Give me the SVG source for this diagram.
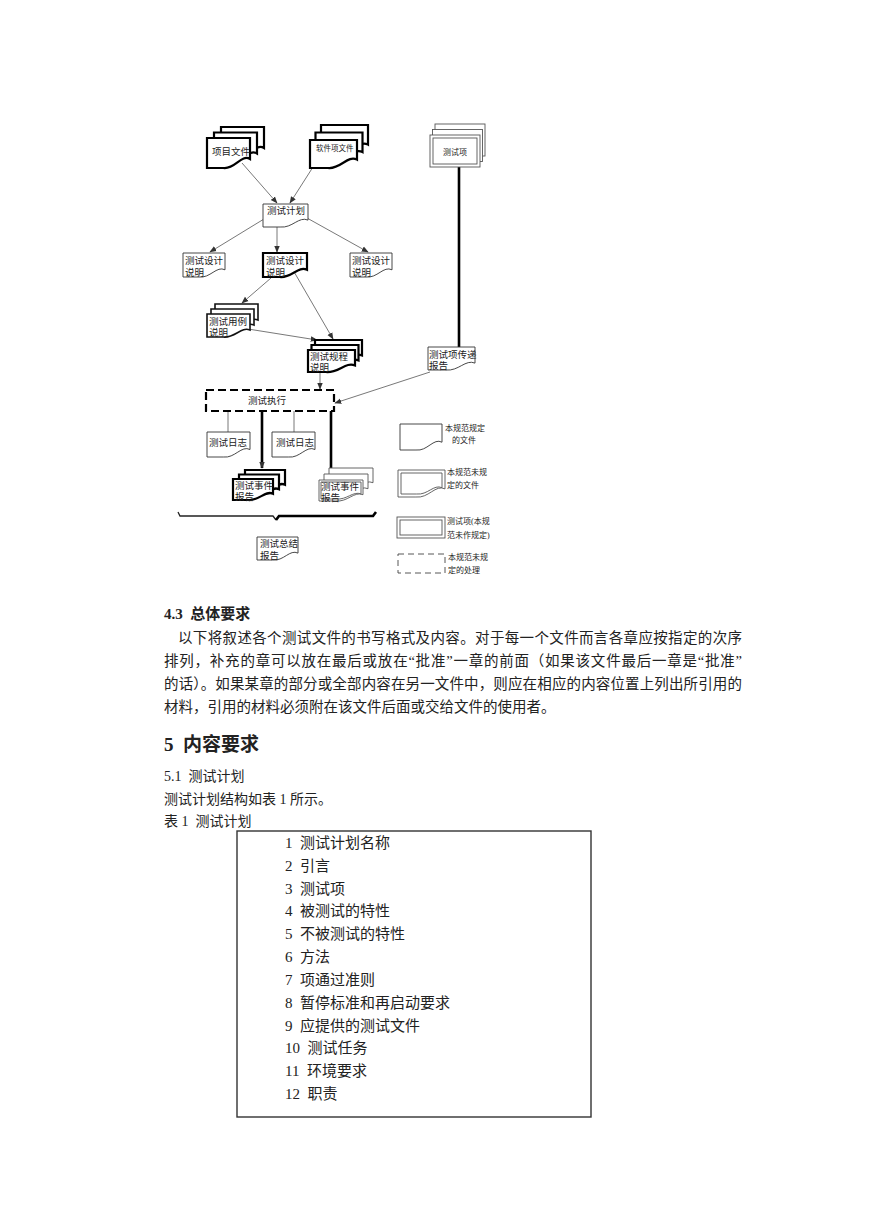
<svg xmlns="http://www.w3.org/2000/svg" width="869" height="1228" viewBox="0 0 869 1228">
<style>
  .bg{fill:#fff}
  .t{font-family:'Liberation Serif','Noto Sans CJK SC',serif;fill:#222;white-space:pre}
  .d{font-size:9.5px}
  .s{font-size:8px}
  .p{font-size:14.5px}
  .r{font-size:15px}
  .thin{fill:#fff;stroke:#333;stroke-width:0.9}
  .med{fill:#fff;stroke:#111;stroke-width:1.6}
  .thick{fill:#fff;stroke:#000;stroke-width:2.2}
  .gray{fill:#fff;stroke:#555;stroke-width:0.9}
  .ln{stroke:#555;stroke-width:0.8;fill:none}
  .bold{stroke:#000;stroke-width:2.6;fill:none}
</style>
<defs>
  <path id="doc" d="M0,0 H100 V70 C80,52 65,106 38,100 L0,100 Z" vector-effect="non-scaling-stroke"/>
  <marker id="ah" viewBox="0 0 10 10" refX="9" refY="5" markerWidth="7" markerHeight="7" orient="auto" markerUnits="userSpaceOnUse">
    <path d="M0,1 L10,5 L0,9 Z" fill="#333"/>
  </marker>
</defs>
<rect class="bg" x="0" y="0" width="869" height="1228"/>

<g id="connectors">
  <line class="ln" x1="242" y1="163" x2="277" y2="203" marker-end="url(#ah)"/>
  <line class="ln" x1="313" y1="167" x2="290" y2="203" marker-end="url(#ah)"/>
  <line class="ln" x1="264" y1="219" x2="210" y2="252" marker-end="url(#ah)"/>
  <line class="ln" x1="277" y1="227" x2="277" y2="252" marker-end="url(#ah)"/>
  <line class="ln" x1="307" y1="218" x2="368" y2="252" marker-end="url(#ah)"/>
  <line class="ln" x1="271" y1="278" x2="242" y2="303" marker-end="url(#ah)"/>
  <line class="ln" x1="293" y1="270" x2="333" y2="339" marker-end="url(#ah)"/>
  <line class="ln" x1="248" y1="329" x2="317" y2="340" marker-end="url(#ah)"/>
  <line class="ln" x1="320" y1="373" x2="320" y2="389" marker-end="url(#ah)"/>
  <line class="bold" x1="459" y1="167" x2="459" y2="347"/>
  <line class="ln" x1="430" y1="372" x2="335" y2="403" marker-end="url(#ah)"/>
  <line class="ln" x1="228" y1="411" x2="228" y2="432"/>
  <line class="bold" x1="262" y1="411" x2="262" y2="468" marker-end="url(#ah)"/>
  <line class="ln" x1="294" y1="411" x2="294" y2="432"/>
  <line class="bold" x1="331" y1="411" x2="331" y2="469"/>
  <path d="M178,512 L180,516 H273 L276,520" stroke="#222" stroke-width="1.3" fill="none"/>
  <path d="M276,520 L279,516 H373 L376,512" stroke="#000" stroke-width="2.6" fill="none"/>
</g>

<g id="n-xiangmu">
  <use href="#doc" class="thick" transform="translate(221,127) scale(0.43,0.3)"/>
  <use href="#doc" class="thick" transform="translate(214,132.5) scale(0.43,0.3)"/>
  <use href="#doc" class="thick" transform="translate(207,138) scale(0.43,0.3)"/>
  <text class="t" x="212" y="155" font-size="9.5">项目文件</text>
</g>
<g id="n-ruanjian">
  <use href="#doc" class="thick" transform="translate(321,125) scale(0.47,0.28)"/>
  <use href="#doc" class="thick" transform="translate(315.5,132.5) scale(0.47,0.28)"/>
  <use href="#doc" class="thick" transform="translate(310,140) scale(0.47,0.28)"/>
  <text class="t" x="316" y="151" font-size="7.5">软件项文件</text>
</g>
<g id="n-ceshixiang">
  <rect class="gray" x="435" y="124" width="50" height="32"/>
  <rect class="gray" x="432.5" y="129.5" width="50" height="32"/>
  <rect class="gray" x="430" y="135" width="50" height="32"/>
  <rect class="gray" x="433" y="138" width="44" height="26"/>
  <text class="t s" x="455" y="155" text-anchor="middle">测试项</text>
</g>
<g id="n-jihua">
  <use href="#doc" class="thin" transform="translate(263,204) scale(0.45,0.23)"/>
  <text class="t d" x="267" y="214">测试计划</text>
</g>
<g id="n-sheji-l">
  <use href="#doc" class="thin" transform="translate(183,253) scale(0.42,0.24)"/>
  <text class="t d" x="185" y="264">测试设计</text>
  <text class="t d" x="185" y="276">说明</text>
</g>
<g id="n-sheji-m">
  <use href="#doc" class="thick" transform="translate(263,253) scale(0.44,0.24)"/>
  <text class="t d" x="266" y="264">测试设计</text>
  <text class="t d" x="266" y="276">说明</text>
</g>
<g id="n-sheji-r">
  <use href="#doc" class="thin" transform="translate(350,253) scale(0.42,0.24)"/>
  <text class="t d" x="352" y="264">测试设计</text>
  <text class="t d" x="352" y="276">说明</text>
</g>
<g id="n-yongli">
  <use href="#doc" class="med" transform="translate(215,304) scale(0.43,0.23)"/>
  <use href="#doc" class="med" transform="translate(211,309) scale(0.43,0.23)"/>
  <use href="#doc" class="med" transform="translate(207,314) scale(0.43,0.23)"/>
  <text class="t d" x="209" y="325">测试用例</text>
  <text class="t d" x="209" y="336">说明</text>
</g>
<g id="n-guicheng">
  <use href="#doc" class="thick" transform="translate(315,340) scale(0.47,0.22)"/>
  <use href="#doc" class="thick" transform="translate(311.5,345) scale(0.47,0.22)"/>
  <use href="#doc" class="thick" transform="translate(308,350) scale(0.47,0.22)"/>
  <text class="t d" x="310" y="360">测试规程</text>
  <text class="t d" x="310" y="371">说明</text>
</g>
<g id="n-chuandi">
  <use href="#doc" class="thin" transform="translate(428,347) scale(0.47,0.23)"/>
  <text class="t d" x="429" y="358">测试项传递</text>
  <text class="t d" x="429" y="369">报告</text>
</g>
<g id="n-zhixing">
  <rect x="206" y="390" width="128" height="21" fill="#fff" stroke="#000" stroke-width="2.2" stroke-dasharray="8,4"/>
  <text class="t d" x="248" y="404">测试执行</text>
</g>
<g id="n-rizhi-l">
  <use href="#doc" class="thin" transform="translate(207,432) scale(0.43,0.25)"/>
  <text class="t d" x="209" y="446">测试日志</text>
</g>
<g id="n-rizhi-r">
  <use href="#doc" class="thin" transform="translate(272,432) scale(0.43,0.25)"/>
  <text class="t d" x="276" y="446">测试日志</text>
</g>
<g id="n-shijian-l">
  <use href="#doc" class="thick" transform="translate(245,470) scale(0.40,0.21)"/>
  <use href="#doc" class="thick" transform="translate(239,474.5) scale(0.40,0.21)"/>
  <use href="#doc" class="thick" transform="translate(233,479) scale(0.40,0.21)"/>
  <text class="t d" x="235" y="489">测试事件</text>
  <text class="t d" x="235" y="500">报告</text>
</g>
<g id="n-shijian-r">
  <use href="#doc" class="gray" transform="translate(329,468) scale(0.44,0.21)"/>
  <use href="#doc" class="gray" transform="translate(324,474) scale(0.44,0.21)"/>
  <use href="#doc" class="gray" transform="translate(319,480) scale(0.44,0.21)"/>
  <use href="#doc" class="gray" transform="translate(321,482) scale(0.40,0.17)"/>
  <text class="t d" x="321" y="490">测试事件</text>
  <text class="t d" x="321" y="501">报告</text>
</g>
<g id="n-zongjie">
  <use href="#doc" class="thin" transform="translate(257,537) scale(0.41,0.23)"/>
  <text class="t d" x="260" y="547">测试总结</text>
  <text class="t d" x="260" y="559">报告</text>
</g>

<g id="legend">
  <use href="#doc" class="thin" transform="translate(400,424) scale(0.42,0.26)"/>
  <text class="t s" x="445" y="431">本规范规定</text>
  <text class="t s" x="452" y="443">的文件</text>
  <use href="#doc" class="gray" transform="translate(398,470) scale(0.47,0.27)"/>
  <use href="#doc" class="gray" transform="translate(401,473) scale(0.41,0.21)"/>
  <text class="t s" x="447" y="475">本规范未规</text>
  <text class="t s" x="447" y="488">定的文件</text>
  <rect class="gray" x="397" y="517" width="48" height="21"/>
  <rect class="gray" x="400" y="520" width="42" height="15"/>
  <text class="t s" x="447" y="524">测试项(本规</text>
  <text class="t s" x="447" y="538">范未作规定)</text>
  <rect x="398" y="554" width="47" height="19" fill="none" stroke="#444" stroke-width="0.9" stroke-dasharray="6,4"/>
  <text class="t s" x="448" y="560">本规范未规</text>
  <text class="t s" x="448" y="573">定的处理</text>
</g>

<g id="body-text">
  <text class="t" x="164" y="619" font-size="15" font-weight="bold">4.3  总体要求</text>
  <text class="t p" x="178" y="643" textLength="564" lengthAdjust="spacing">以下将叙述各个测试文件的书写格式及内容。对于每一个文件而言各章应按指定的次序</text>
  <text class="t p" x="164" y="666" textLength="578" lengthAdjust="spacing">排列，补充的章可以放在最后或放在“批准”一章的前面（如果该文件最后一章是“批准”</text>
  <text class="t p" x="164" y="689" textLength="578" lengthAdjust="spacing">的话）。如果某章的部分或全部内容在另一文件中，则应在相应的内容位置上列出所引用的</text>
  <text class="t p" x="164" y="712">材料，引用的材料必须附在该文件后面或交给文件的使用者。</text>
  <text class="t" x="164" y="751" font-size="19" font-weight="bold">5  内容要求</text>
  <text class="t" x="164" y="781" font-size="14">5.1  测试计划</text>
  <text class="t" x="164" y="804" font-size="14">测试计划结构如表 1 所示。</text>
  <text class="t" x="164" y="826" font-size="14">表 1  测试计划</text>
</g>

<g id="table">
  <rect x="237" y="831" width="354" height="286" fill="none" stroke="#333" stroke-width="1.4"/>
  <text class="t r" x="285" y="848">1  测试计划名称</text>
  <text class="t r" x="285" y="871">2  引言</text>
  <text class="t r" x="285" y="894">3  测试项</text>
  <text class="t r" x="285" y="916">4  被测试的特性</text>
  <text class="t r" x="285" y="939">5  不被测试的特性</text>
  <text class="t r" x="285" y="962">6  方法</text>
  <text class="t r" x="285" y="985">7  项通过准则</text>
  <text class="t r" x="285" y="1008">8  暂停标准和再启动要求</text>
  <text class="t r" x="285" y="1031">9  应提供的测试文件</text>
  <text class="t r" x="285" y="1053">10  测试任务</text>
  <text class="t r" x="285" y="1076">11  环境要求</text>
  <text class="t r" x="285" y="1099">12  职责</text>
</g>
</svg>
